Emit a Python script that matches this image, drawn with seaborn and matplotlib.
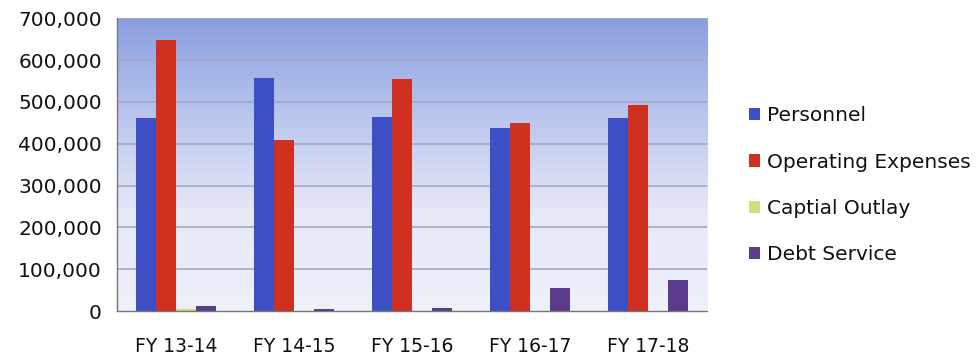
import matplotlib
matplotlib.use('Agg')
import matplotlib.pyplot as plt
import seaborn as sns
import pandas as pd
import numpy as np
from matplotlib.colors import LinearSegmentedColormap
from matplotlib.ticker import FuncFormatter, FixedLocator

years = ["FY 13-14", "FY 14-15", "FY 15-16", "FY 16-17", "FY 17-18"]
categories = ["Personnel", "Operating Expenses", "Captial Outlay", "Debt Service"]
personnel = [461000, 557000, 465000, 437000, 462000]
operating = [649000, 409000, 554000, 450000, 493000]
capital = [5000, 0, 0, 0, 0]
debt = [12000, 6000, 7000, 56000, 74000]
colors = ["#3c4fc4", "#d0301f", "#c9e27e", "#5a3b8c"]

rows = []
for cat, vals in zip(categories, [personnel, operating, capital, debt]):
    for yr, v in zip(years, vals):
        rows.append({"year": yr, "category": cat, "value": v})
df = pd.DataFrame(rows)

sns.set_style("white")
plt.rcParams['font.family'] = ['DejaVu Sans']

fig = plt.figure(figsize=(9.77, 3.58), dpi=100)
ax = fig.add_axes([0.12, 0.131, 0.604, 0.818])

# gradient plot background
grad = np.linspace(0, 1, 256).reshape(-1, 1)
cmap = LinearSegmentedColormap.from_list("bg", ["#8a9fe0", "#b9c5ee", "#e6e9f8", "#eef0fa"])
ax.imshow(grad, extent=(-0.5, 4.5, 0, 700000), aspect='auto', cmap=cmap,
          origin='upper', zorder=0)

sns.barplot(data=df, x="year", y="value", hue="category", palette=colors,
            width=0.68, saturation=1, linewidth=0, edgecolor="none", ax=ax, zorder=3)

ax.set_xlim(-0.5, 4.5)
ax.set_ylim(0, 700000)
ax.set_yticks(range(0, 700001, 100000))
ax.yaxis.set_major_formatter(FuncFormatter(lambda v, p: f"{int(v):,}"))
for y in range(100000, 700001, 100000):
    ax.axhline(y, color="#a4a9bf", lw=1.2, zorder=1)

ax.set_xlabel("")
ax.set_ylabel("")
ax.xaxis.set_minor_locator(FixedLocator([-0.5, 0.5, 1.5, 2.5, 3.5, 4.5]))
ax.tick_params(axis="x", which="major", length=0, labelsize=13.5, pad=19, colors="#111111")
ax.tick_params(axis="x", which="minor", length=5, color="#666666", direction="out")
ax.tick_params(axis="y", length=5, color="#666666", labelsize=14.5, pad=6, colors="#111111")
ax.tick_params(axis="y", color="#666666")

for s in ["top", "right"]:
    ax.spines[s].set_visible(False)
for s in ["left", "bottom"]:
    ax.spines[s].set_color("#777777")
    ax.spines[s].set_linewidth(1)
    ax.spines[s].set_zorder(4)

handles, labels = ax.get_legend_handles_labels()
leg = ax.legend(handles, labels, loc="center left", bbox_to_anchor=(1.04, 0.43),
                frameon=False, fontsize=14.5, handlelength=0.55, handleheight=0.55,
                handletextpad=0.35, labelspacing=1.35)
for t in leg.get_texts():
    t.set_color("#111111")

fig.savefig("out.png", dpi=100)
